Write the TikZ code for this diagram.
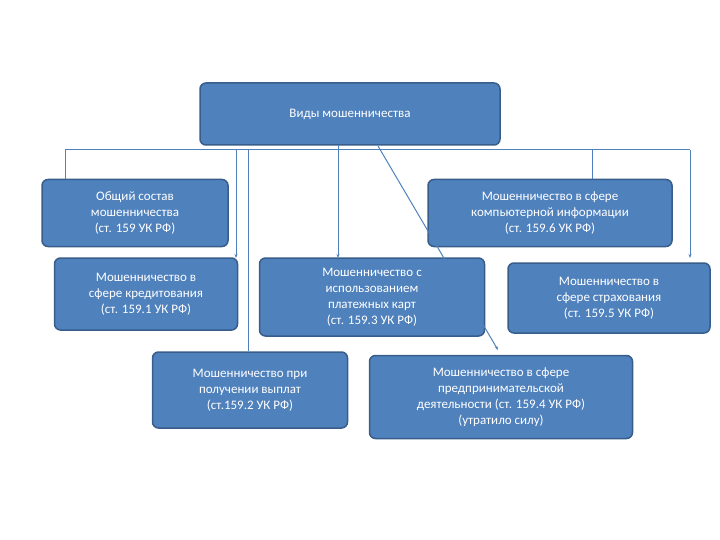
\documentclass[tikz,border=0pt]{standalone}
\usepackage{fontspec}
\setmainfont{Carlito}
\usetikzlibrary{arrows.meta}
\definecolor{bfill}{HTML}{4F81BD}
\definecolor{bline}{HTML}{385D8A}
\begin{document}
\begin{tikzpicture}[x=1pt,y=-1pt,
  box/.style={draw=bline,line width=1.5pt,fill=bfill,rounded corners=6pt,text=white,font=\fontsize{13}{16}\selectfont,align=center,inner sep=0pt},
  con/.style={draw=bfill,line width=1pt},
  arr/.style={con,-{Stealth[length=4pt,width=3pt]}}]
\useasboundingbox (0,0) rectangle (720,540);
\node[box,minimum width=300pt,minimum height=62pt] (top) at (350,114) {Виды мошенничества};
\node[box,minimum width=186pt,minimum height=67pt] (b1) at (135,213) {Общий состав\\мошенничества\\(ст. 159 УК РФ)};
\node[box,minimum width=244pt,minimum height=67pt] (b5) at (550,213) {Мошенничество в сфере\\компьютерной информации\\(ст. 159.6 УК РФ)};
\node[box,minimum width=183pt,minimum height=72pt] (b2) at (146,294) {Мошенничество в\\сфере кредитования\\(ст. 159.1 УК РФ)};
\node[box,minimum width=225pt,minimum height=78pt] (b3) at (372,297) {Мошенничество с\\использованием\\платежных карт\\(ст. 159.3 УК РФ)};
\node[box,minimum width=202pt,minimum height=70pt] (b4) at (609,298) {Мошенничество в\\сфере страхования\\(ст. 159.5 УК РФ)};
\node[box,minimum width=195pt,minimum height=76pt] (b6) at (250,390) {Мошенничество при\\получении выплат\\(ст.159.2 УК РФ)};
\node[box,minimum width=263pt,minimum height=83pt] (b7) at (501,397) {Мошенничество в сфере\\предпринимательской\\деятельности (ст. 159.4 УК РФ)\\(утратило силу)};
\coordinate (hl) at (65,150);
\coordinate (hr) at (690,150);
\draw[con] (hl) -- (hr);
\draw[con] (hl) -- (b1.north -| hl);
\draw[arr] (236,150) -- (236,258);
\draw[con] (248,150) -- (b6.north -| 248,0);
\draw[arr] (338,145) -- (338,258);
\draw[con] (592,150) -- (b5.north -| 592,0);
\draw[arr] (hr) -- (690,258);
\draw[arr] (378,146) -- (498,350);
\end{tikzpicture}
\end{document}
